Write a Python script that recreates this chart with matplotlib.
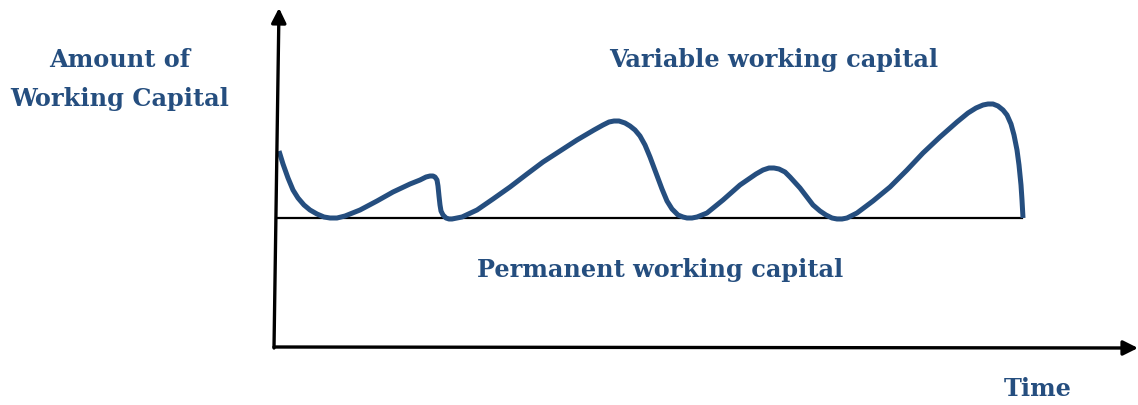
import matplotlib.pyplot as plt

# diagram drawn in image pixel coordinates (y grows downward)
curve_t = [279, 283, 288, 293, 298, 304, 310, 317, 324, 330, 337, 345, 360, 377, 393,
           410, 420, 426, 430, 433, 435, 437, 438, 439, 440, 441, 443, 446, 449, 452,
           457, 462, 477, 493, 510, 527, 543, 560, 577, 594, 603, 609, 614, 619, 625,
           630, 635, 640, 645, 650, 656, 662, 667, 672, 678, 683, 687, 692, 697, 707,
           723, 740, 756, 763, 769, 774, 779, 785, 790, 800, 813, 820, 826, 832, 837,
           842, 847, 857, 873, 890, 907, 923, 940, 957, 968, 976, 983, 988, 993, 998,
           1003, 1007, 1011, 1014, 1017, 1019, 1021, 1022, 1023]
curve_amount = [151, 164, 178, 190, 198, 205, 210, 214, 217, 218, 218, 216, 210, 201, 192,
                184, 180, 177, 176, 176, 177, 180, 186, 196, 205, 211, 215, 218, 219, 219,
                218, 217, 210, 199, 187, 174, 162, 151, 140, 130, 125, 122, 121, 121, 123,
                126, 130, 136, 145, 157, 173, 189, 201, 209, 215, 217, 218, 218, 217, 213,
                200, 185, 174, 170, 168, 168, 169, 172, 177, 188, 205, 211, 215, 218, 219,
                219, 218, 213, 201, 187, 170, 153, 137, 122, 113, 108, 105, 104, 104, 106,
                110, 115, 124, 135, 150, 165, 185, 200, 218]

baseline_x = [278, 1022]
baseline_y = [218, 218]

y_axis_start = (274, 348)
y_axis_tip = (279, 8)
x_axis_start = (274, 347)
x_axis_tip = (1138, 348)

blue = "#254E7F"

fig = plt.figure(figsize=(11.38, 4.05), dpi=100)
ax = fig.add_axes([0, 0, 1, 1])
ax.set_xlim(0, 1138)
ax.set_ylim(405, 0)
ax.axis("off")

ax.plot(baseline_x, baseline_y, color="black", lw=1.6)
ax.plot(curve_t, curve_amount, color=blue, lw=3.6,
        solid_capstyle="butt", solid_joinstyle="round")

arrow = dict(arrowstyle="-|>", color="black", lw=2.4, mutation_scale=22,
             shrinkA=0, shrinkB=0)
ax.annotate("", xy=y_axis_tip, xytext=y_axis_start, arrowprops=arrow)
ax.annotate("", xy=x_axis_tip, xytext=x_axis_start, arrowprops=arrow)

font = dict(family="DejaVu Serif", fontweight="bold", color=blue, fontsize=17.3)
ax.text(120, 60, "Amount of", ha="center", va="center", **font)
ax.text(120, 99, "Working Capital", ha="center", va="center", **font)
ax.text(774, 60, "Variable working capital", ha="center", va="center", **font)
ax.text(660, 270, "Permanent working capital", ha="center", va="center", **font)
ax.text(1038, 389, "Time", ha="center", va="center", **font)

fig.savefig("out.png", dpi=100)
